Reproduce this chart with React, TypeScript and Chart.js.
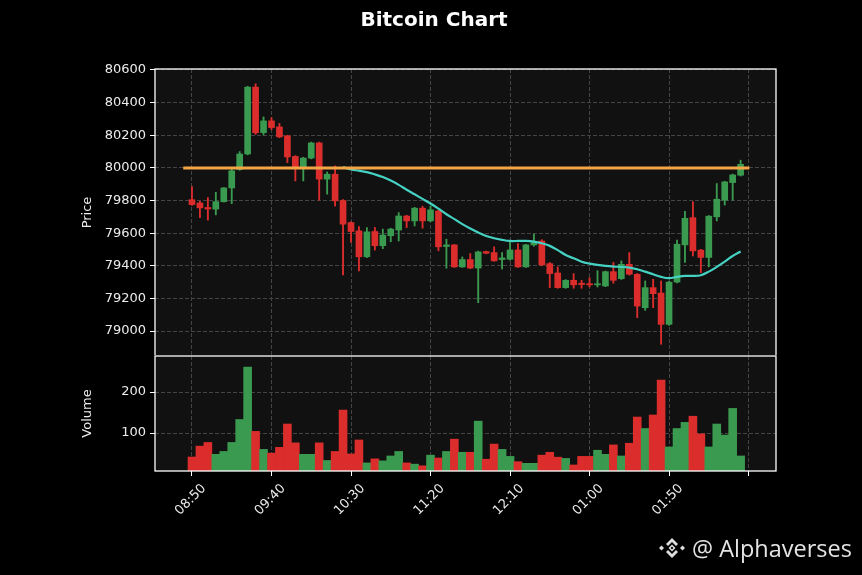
import React, { useEffect, useRef } from 'react';
import { Chart, registerables } from 'chart.js';

Chart.register(...registerables);

// ---------- data ----------
const TICK_INDEX = [0, 10, 20, 30, 40, 50, 60, 70];
const TICK_LABELS = ['08:50', '09:40', '10:30', '11:20', '12:10', '01:00', '01:50', ''];

const OPEN = [
  79805, 79785, 79757, 79747, 79793, 79877, 79990, 80085, 80495, 80216,
  80288, 80251, 80196, 80070, 79998, 80060, 80153, 79931, 79961, 79800,
  79665, 79614, 79455, 79610, 79523, 79584, 79619, 79705, 79675, 79753,
  79675, 79736, 79518, 79528, 79393, 79438, 79386, 79487, 79481, 79438,
  79440, 79497, 79393, 79528, 79552, 79413, 79356, 79266, 79311, 79293,
  79290, 79283, 79276, 79364, 79321, 79409, 79348, 79143, 79266, 79233,
  79041, 79300, 79528, 79695, 79496, 79451, 79700, 79802, 79910, 79955,
];
const HIGH = [
  79885, 79795, 79818, 79850, 79880, 80002, 80100, 80500, 80515, 80312,
  80308, 80272, 80200, 80075, 80065, 80158, 80158, 79975, 80012, 79805,
  79670, 79640, 79634, 79635, 79625, 79630, 79726, 79710, 79758, 79765,
  79767, 79740, 79563, 79530, 79454, 79475, 79490, 79490, 79516, 79481,
  79543, 79536, 79532, 79594, 79560, 79420, 79393, 79315, 79352, 79311,
  79327, 79370, 79368, 79420, 79430, 79481, 79352, 79307, 79317, 79307,
  79305, 79557, 79733, 79793, 79500, 79708, 79904, 79918, 79962, 80047,
];
const LOW = [
  79770, 79695, 79680, 79712, 79790, 79781, 79985, 80080, 80205, 80202,
  80235, 80185, 80032, 79920, 79920, 80055, 79802, 79839, 79766, 79344,
  79543, 79368, 79450, 79496, 79505, 79547, 79552, 79634, 79644, 79630,
  79670, 79492, 79385, 79390, 79390, 79382, 79174, 79473, 79428, 79380,
  79435, 79390, 79390, 79520, 79400, 79266, 79262, 79262, 79262, 79262,
  79270, 79270, 79272, 79293, 79316, 79343, 79082, 79127, 79143, 78919,
  79035, 79295, 79420, 79460, 79358, 79393, 79675, 79772, 79802, 79950,
];
const CLOSE = [
  79775, 79755, 79748, 79793, 79877, 79982, 80085, 80495, 80215, 80288,
  80247, 80190, 80067, 79998, 80060, 80153, 79931, 79961, 79798, 79655,
  79610, 79455, 79608, 79523, 79588, 79625, 79705, 79675, 79753, 79675,
  79743, 79516, 79528, 79393, 79438, 79386, 79485, 79477, 79430, 79448,
  79497, 79393, 79528, 79543, 79405, 79352, 79266, 79311, 79283, 79285,
  79283, 79290, 79364, 79311, 79409, 79348, 79153, 79266, 79229, 79041,
  79300, 79532, 79691, 79491, 79451, 79704, 79808, 79914, 79957, 80022,
];
const VOLUME = [
  41.5, 68, 77, 48, 55, 77, 133, 261, 104, 60,
  51, 65, 122, 76, 48, 48, 76, 33, 55, 156,
  49, 83, 27, 37, 32, 44, 55, 27, 24, 20,
  46, 39, 55, 85, 53, 53, 129, 36, 73, 60,
  43, 30, 26, 26, 46, 53, 41, 38, 22, 43,
  43, 58, 48, 71, 44, 75, 139, 111, 144, 229,
  66, 111, 126, 141, 98, 66, 122, 95, 160, 44,
];
const MOVING_AVG: (number | null)[] = [
  null, null, null, null, null, null, null, null, null, null,
  null, null, null, null, null, null, null, null, null, 80005,
  79990, 79983, 79974, 79960, 79944, 79922, 79896, 79866, 79838, 79810,
  79782, 79750, 79716, 79686, 79655, 79628, 79604, 79583, 79569, 79559,
  79552, 79552, 79552, 79548, 79538, 79522, 79496, 79466, 79446, 79425,
  79413, 79405, 79399, 79395, 79393, 79389, 79379, 79364, 79348, 79332,
  79324, 79332, 79338, 79338, 79342, 79364, 79393, 79425, 79460, 79487,
];

const PRICE_TICKS = [79000, 79200, 79400, 79600, 79800, 80000, 80200, 80400, 80600];
const VOLUME_TICKS = [100, 200];
const LEVEL_PRICE = 80000;
const LEVEL_FROM = -1.1;
const LEVEL_TO = 70.1;

const X_MIN = -4.65;
const X_MAX = 73.45;
const PRICE_MIN = 78847;
const PRICE_MAX = 80606;
const VOL_MIN = 7.3;
const VOL_MAX = 288;

// ---------- style ----------
const GREEN = '#3a9b50';
const RED = '#dc2d2d';
const GRID = '#444444';
const PANEL_BG = '#111111';
const TEXT = '#ececec';
const FONT = 'DejaVu Sans';

const idx = OPEN.map((_, i) => i);
const up = idx.map((i) => CLOSE[i] >= OPEN[i]);
const candleColors = up.map((u) => (u ? GREEN : RED));

const panelPlugin = {
  id: 'panelFrame',
  beforeDraw(chart: any) {
    const { ctx, chartArea: a } = chart;
    ctx.save();
    ctx.fillStyle = '#000000';
    ctx.fillRect(0, 0, chart.width, chart.height);
    ctx.fillStyle = PANEL_BG;
    ctx.fillRect(a.left, a.top, a.right - a.left, a.bottom - a.top);
    ctx.restore();
  },
  afterDraw(chart: any) {
    const { ctx, chartArea: a } = chart;
    ctx.save();
    ctx.strokeStyle = '#ffffff';
    ctx.lineWidth = 1.3;
    ctx.strokeRect(a.left, a.top, a.right - a.left, a.bottom - a.top);
    ctx.restore();
  },
};

function xScale(showLabels: boolean): any {
  return {
    type: 'linear',
    min: X_MIN,
    max: X_MAX,
    offset: false,
    afterBuildTicks: (s: any) => {
      s.ticks = TICK_INDEX.map((v) => ({ value: v }));
    },
    grid: {
      offset: false,
      color: GRID,
      drawTicks: showLabels,
      tickLength: 5,
      tickColor: '#ffffff',
      tickWidth: 1,
    },
    border: { display: false, dash: [4, 2] },
    ticks: showLabels
      ? {
          display: true,
          autoSkip: false,
          minRotation: 45,
          maxRotation: 45,
          labelOffset: 12,
          padding: 5,
          color: TEXT,
          font: { family: FONT, size: 13 },
          callback: (value: any) => {
            const k = TICK_INDEX.indexOf(Number(value));
            return k >= 0 ? TICK_LABELS[k] : '';
          },
        }
      : { display: false },
    afterFit: (s: any) => {
      s.height = showLabels ? 104 : 0;
      s.paddingLeft = 0;
      s.paddingRight = 0;
    },
  };
}

function spacerScale(): any {
  return {
    type: 'linear',
    position: 'right',
    min: 0,
    max: 1,
    grid: { display: false, drawTicks: false },
    border: { display: false },
    ticks: { display: false },
    afterFit: (s: any) => {
      s.width = 86;
      s.paddingTop = 0;
      s.paddingBottom = 0;
    },
  };
}

function yScale(min: number, max: number, ticks: number[], title: string): any {
  return {
    type: 'linear',
    position: 'left',
    min,
    max,
    afterBuildTicks: (s: any) => {
      s.ticks = ticks.map((v) => ({ value: v }));
    },
    grid: { color: GRID, tickLength: 5, tickColor: '#ffffff', tickWidth: 1 },
    border: { display: false, dash: [4, 2] },
    ticks: {
      padding: 4,
      color: TEXT,
      font: { family: FONT, size: 13 },
      callback: (v: any) => String(v),
    },
    title: {
      display: true,
      text: title,
      color: TEXT,
      font: { family: FONT, size: 13 },
      padding: { top: 74, bottom: 0 },
    },
    afterFit: (s: any) => {
      s.width = 149;
      s.paddingTop = 0;
      s.paddingBottom = 0;
    },
  };
}

export default function App() {
  const topRef = useRef<HTMLCanvasElement>(null);
  const botRef = useRef<HTMLCanvasElement>(null);

  useEffect(() => {
    Chart.defaults.font.family = FONT;

    const priceChart = new Chart(topRef.current as HTMLCanvasElement, {
      type: 'bar',
      data: {
        datasets: [
          {
            type: 'line',
            label: 'Level',
            data: [
              { x: LEVEL_FROM, y: LEVEL_PRICE },
              { x: LEVEL_TO, y: LEVEL_PRICE },
            ],
            borderColor: '#f4a646',
            borderWidth: 3,
            pointRadius: 0,
            xAxisID: 'x',
            yAxisID: 'y',
            order: 0,
          } as any,
          {
            type: 'line',
            label: 'MA',
            data: idx.map((i) => ({ x: i, y: MOVING_AVG[i] })),
            borderColor: '#45d2c2',
            borderWidth: 2.2,
            pointRadius: 0,
            tension: 0.35,
            spanGaps: false,
            xAxisID: 'x',
            yAxisID: 'y',
            order: 1,
          } as any,
          {
            type: 'bar',
            label: 'Body',
            data: idx.map((i) => ({ x: i, y: [OPEN[i], CLOSE[i]] })),
            backgroundColor: candleColors,
            borderWidth: 0,
            barThickness: 6,
            minBarLength: 1,
            grouped: false,
            xAxisID: 'x',
            yAxisID: 'y',
            order: 2,
          } as any,
          {
            type: 'bar',
            label: 'Wick',
            data: idx.map((i) => ({ x: i, y: [LOW[i], HIGH[i]] })),
            backgroundColor: candleColors,
            borderWidth: 0,
            barThickness: 1.2,
            grouped: false,
            xAxisID: 'x',
            yAxisID: 'y',
            order: 3,
          } as any,
        ],
      },
      options: {
        responsive: false,
        animation: false,
        events: [],
        layout: { padding: { left: 6, right: 0, top: 0, bottom: 1 } },
        plugins: {
          legend: { display: false },
          tooltip: { enabled: false },
          title: {
            display: true,
            text: 'Bitcoin Chart',
            color: '#ffffff',
            font: { family: FONT, size: 20, weight: 'bold' },
            padding: { top: 9, bottom: 36 },
          },
        },
        scales: {
          x: xScale(false),
          y: yScale(PRICE_MIN, PRICE_MAX, PRICE_TICKS, 'Price'),
          yr: spacerScale(),
        },
      } as any,
      plugins: [panelPlugin],
    });

    const volumeChart = new Chart(botRef.current as HTMLCanvasElement, {
      type: 'bar',
      data: {
        datasets: [
          {
            label: 'Volume',
            data: idx.map((i) => ({ x: i, y: VOLUME[i] })),
            backgroundColor: candleColors,
            borderWidth: 0,
            barThickness: 7.95,
            grouped: false,
            xAxisID: 'x',
            yAxisID: 'y',
          } as any,
        ],
      },
      options: {
        responsive: false,
        animation: false,
        events: [],
        layout: { padding: { left: 6, right: 0, top: 1, bottom: 0 } },
        plugins: {
          legend: { display: false },
          tooltip: { enabled: false },
        },
        scales: {
          x: xScale(true),
          y: yScale(VOL_MIN, VOL_MAX, VOLUME_TICKS, 'Volume'),
          yr: spacerScale(),
        },
      } as any,
      plugins: [panelPlugin],
    });

    return () => {
      priceChart.destroy();
      volumeChart.destroy();
    };
  }, []);

  return (
    <div
      style={{
        position: 'absolute',
        left: 0,
        top: 0,
        width: 862,
        height: 575,
        background: '#000',
        overflow: 'hidden',
      }}
    >
      <canvas
        ref={topRef}
        width={862}
        height={357}
        style={{ position: 'absolute', left: 0, top: 0, width: 862, height: 357 }}
      />
      <canvas
        ref={botRef}
        width={862}
        height={220}
        style={{ position: 'absolute', left: 0, top: 355, width: 862, height: 220 }}
      />
      <div
        style={{
          position: 'absolute',
          left: 657,
          top: 532,
          height: 31,
          display: 'flex',
          alignItems: 'center',
          gap: 5,
          color: '#e4e4e4',
          fontFamily: '"Open Sans", sans-serif',
          fontSize: 23.5,
          whiteSpace: 'nowrap',
        }}
      >
        <svg width="30" height="30" viewBox="0 0 30 30">
          <g fill="#dedede">
            <path d="M9,11 L15,5 L21,11 L19,13 L15,9 L11,13 Z" />
            <path d="M9,19 L15,25 L21,19 L19,17 L15,21 L11,17 Z" />
            <path d="M2,15 L4.5,12.5 L7,15 L4.5,17.5 Z" />
            <path d="M23,15 L25.5,12.5 L28,15 L25.5,17.5 Z" />
            <path d="M15,11.5 L18.5,15 L15,18.5 L11.5,15 Z M15,13.6 L13.6,15 L15,16.4 L16.4,15 Z" fillRule="evenodd" />
          </g>
        </svg>
        <span>@ Alphaverses</span>
      </div>
    </div>
  );
}
